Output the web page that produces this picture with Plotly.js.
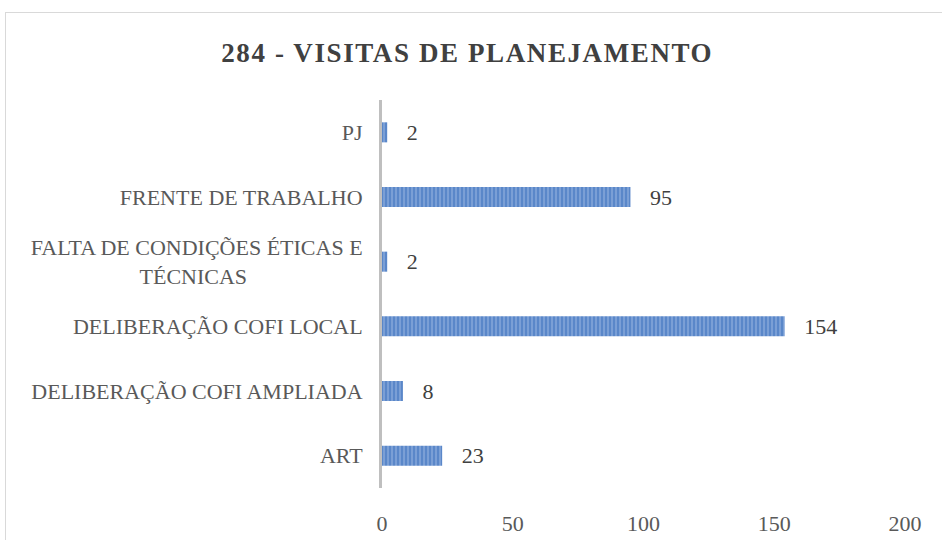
<!DOCTYPE html>
<html>
<head>
<meta charset="utf-8">
<script src="https://cdn.plot.ly/plotly-3.0.1.min.js"></script>
<style>
  html, body { margin: 0; padding: 0; background: #fff; }
  #frame { position: absolute; left: 5px; top: 12px; width: 960px; height: 560px; border: 1.5px solid #D9D9D9; box-sizing: border-box; }
  #chart { position: absolute; left: 0; top: 0; width: 942px; height: 540px; }
  .gtitle { letter-spacing: 1.6px; }
</style>
</head>
<body>
<div id="frame"></div>
<div id="chart"></div>
<script>
const categories = [
  "PJ",
  "FRENTE DE TRABALHO",
  "FALTA DE CONDIÇÕES ÉTICAS E TÉCNICAS",
  "DELIBERAÇÃO COFI LOCAL",
  "DELIBERAÇÃO COFI AMPLIADA",
  "ART"
];
const tickLabels = [
  "PJ",
  "FRENTE DE TRABALHO",
  "FALTA DE CONDIÇÕES ÉTICAS E<br>TÉCNICAS" + "\u00A0".repeat(21),
  "DELIBERAÇÃO COFI LOCAL",
  "DELIBERAÇÃO COFI AMPLIADA",
  "ART"
];
const values = [2, 95, 2, 154, 8, 23];
const xTicks = [0, 50, 100, 150, 200];
const chartTitle = "284 - VISITAS DE PLANEJAMENTO";

const serif = "Liberation Serif, DejaVu Serif, serif";

const trace = {
  type: "bar",
  orientation: "h",
  y: categories,
  x: values,
  text: values.map(v => "   " + v),
  textposition: "outside",
  constraintext: "none",
  cliponaxis: false,
  textfont: { family: serif, size: 22, color: "#404040" },
  marker: {
    color: "#5A87C9",
    line: { width: 0 },
    pattern: { shape: "|", bgcolor: "#5A87C9", fgcolor: "#B7CCEC", size: 4, solidity: 0.35, fillmode: "overlay" }
  },
  hoverinfo: "none"
};

const layout = {
  width: 942, height: 540,
  paper_bgcolor: "rgba(0,0,0,0)",
  plot_bgcolor: "rgba(0,0,0,0)",
  margin: { l: 382, r: 37, t: 100, b: 52 },
  showlegend: false,
  bargap: 0.69,
  title: {
    text: "<b>" + chartTitle + "</b>",
    x: 0.496, xanchor: "center",
    y: 0.902, yanchor: "middle",
    font: { family: serif, size: 27, color: "#404040" }
  },
  xaxis: {
    range: [0, 200],
    tickvals: xTicks,
    ticktext: xTicks.map(String),
    showgrid: false,
    zeroline: false,
    showline: false,
    ticks: "",
    ticklabelstandoff: 20,
    tickfont: { family: serif, size: 22, color: "#595959" },
    fixedrange: true
  },
  yaxis: {
    type: "category",
    autorange: "reversed",
    tickvals: categories,
    ticktext: tickLabels,
    showgrid: false,
    zeroline: false,
    showline: true,
    linecolor: "#BFBFBF",
    linewidth: 3,
    ticks: "",
    ticklabelstandoff: 12,
    tickfont: { family: serif, size: 22, color: "#595959" },
    fixedrange: true
  }
};

Plotly.newPlot("chart", [trace], layout, { displayModeBar: false, staticPlot: true });
</script>
</body>
</html>
